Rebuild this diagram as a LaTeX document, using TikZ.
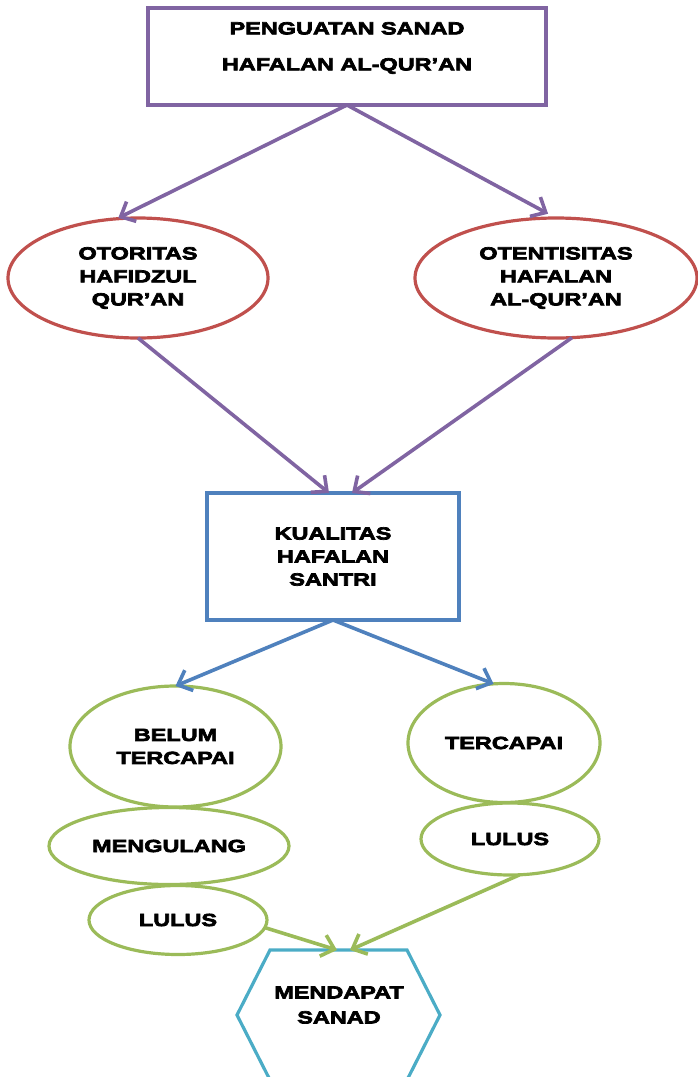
\documentclass[tikz,border=0pt]{standalone}
\usepackage{fontspec}
\setmainfont{Liberation Sans}
\newfontfamily\blk{Liberation Sans Bold}[FakeStretch=1.34,FakeBold=4]
\usetikzlibrary{shapes.geometric,arrows.meta,calc}
\definecolor{cpurple}{RGB}{128,100,162}
\definecolor{cred}{RGB}{192,80,77}
\definecolor{cblue}{RGB}{79,129,189}
\definecolor{cgreen}{RGB}{155,187,89}
\definecolor{ccyan}{RGB}{75,172,198}
\tikzset{
  lbl/.style={font=\blk\fontsize{17.5}{23}\selectfont, align=center, text=black},
  boxshape/.style={draw, line width=3.2pt, rectangle, inner sep=0pt, outer sep=0pt},
  ellshape/.style={draw, line width=3.2pt, ellipse, inner sep=0pt, outer sep=0pt, lbl},
  arr/.style={line width=3.6pt, -{Straight Barb[length=12pt,width=22pt]}},
}
\begin{document}
\begin{tikzpicture}[x=1pt,y=-1pt]
\useasboundingbox (0,0) rectangle (698,1077);

% top box
\node[boxshape, draw=cpurple, minimum width=398, minimum height=97] (top) at (347,56.5) {};
\node[lbl, font=\blk\fontsize{17.5}{36}\selectfont] (toplbl) at (347,48) {PENGUATAN SANAD\\HAFALAN AL-QUR’AN};

% red ellipses
\node[ellshape, draw=cred, minimum width=260, minimum height=120] (otor) at (138,278) {OTORITAS\\HAFIDZUL\\QUR’AN};
\node[ellshape, draw=cred, minimum width=282, minimum height=120] (otent) at (556,278) {OTENTISITAS\\HAFALAN\\AL-QUR’AN};

% blue box
\node[boxshape, draw=cblue, minimum width=252, minimum height=127, lbl] (kual) at (333,556.5) {KUALITAS\\HAFALAN\\SANTRI};

% green ellipses
\node[ellshape, draw=cgreen, minimum width=211, minimum height=121] (belum) at (175.5,746.5) {BELUM\\TERCAPAI};
\node[ellshape, draw=cgreen, minimum width=192, minimum height=119] (terc) at (504,743) {TERCAPAI};
\node[ellshape, draw=cgreen, minimum width=240, minimum height=77] (ulang) at (169,846) {MENGULANG};
\node[ellshape, draw=cgreen, minimum width=178, minimum height=72] (lulusR) at (510,839) {LULUS};
\node[ellshape, draw=cgreen, minimum width=178, minimum height=69] (lulusL) at (178,920) {LULUS};

% hexagon
\node[lbl, font=\blk\fontsize{17.5}{25}\selectfont] (hex) at (339,1005) {MENDAPAT\\SANAD};
\coordinate (hxc) at ($(hex)+(0,10)$);
\coordinate (hextop) at ($(hxc)+(0,-65)$);
\draw[ccyan, line width=3.2pt, line join=miter]
  ($(hxc)+(-102,0)$) -- ($(hxc)+(-69,-65)$) -- ($(hxc)+(68,-65)$) --
  ($(hxc)+(101,0)$) -- ($(hxc)+(68,65)$) -- ($(hxc)+(-69,65)$) -- cycle;

% connectors
\draw[arr, cpurple, shorten >=2pt] (top.south) -- (otor.110);
\draw[arr, cpurple, shorten >=9pt] (top.south) -- (otent.north);
\draw[arr, cpurple] (otor.south) -- ([xshift=-4pt]kual.north);
\draw[arr, cpurple] (otent.-75) -- ([xshift=19pt]kual.north);
\draw[arr, cblue] (kual.south) -- (belum.north);
\draw[arr, cblue] (kual.south) -- (terc.100);
\draw[arr, cgreen] (lulusL.-5) -- ([xshift=-2pt]hextop);
\draw[arr, cgreen] (lulusR.-75) -- ([xshift=11pt]hextop);
\end{tikzpicture}
\end{document}
